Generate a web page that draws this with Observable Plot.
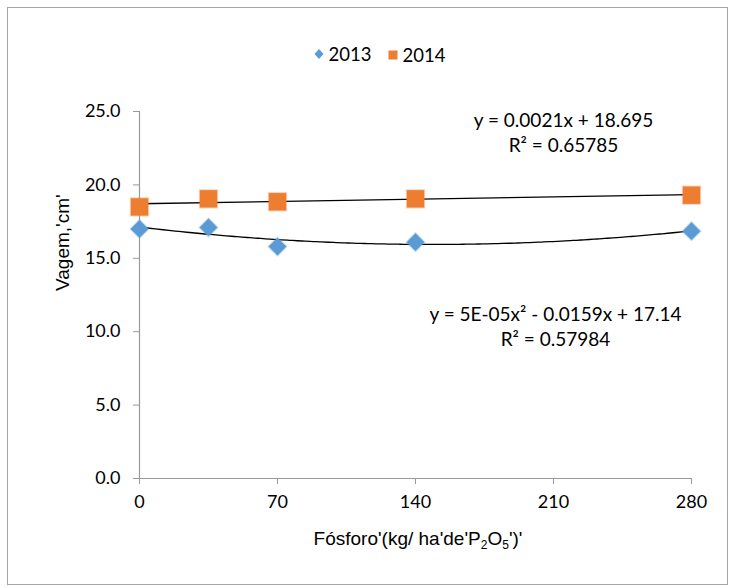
<!DOCTYPE html>
<html>
<head>
<meta charset="utf-8">
<script src="https://cdn.jsdelivr.net/npm/d3@7"></script>
<script src="https://cdn.jsdelivr.net/npm/@observablehq/plot@0.6"></script>
<style>
  body { margin: 0; background: #fff; }
  #box { position: absolute; left: 7px; top: 7px; width: 719px; height: 576px; border: 1px solid #a6a6a6; }
  #legend { position: absolute; top: 34px; left: 0; width: 100%; text-align: center; font-family: Lato, "Open Sans", sans-serif; font-size: 18.5px; color: #000; padding-left: 24px; box-sizing: border-box; }
  #legend span.item { display: inline-flex; align-items: center; margin: 0 8px; }
  #legend svg { margin-right: 5px; }
  #chart { position: absolute; left: 0; top: 72px; }
  #xtitle { position: absolute; top: 520px; left: 410px; transform: translateX(-50%); font-family: "Liberation Sans Narrow", "Arial Narrow", sans-serif; font-size: 19px; white-space: nowrap; color: #000; }
  #xtitle sub { font-size: 12px; vertical-align: -4px; line-height: 0; }
</style>
</head>
<body>
<div id="box">
  <div id="legend"></div>
  <div id="chart"></div>
  <div id="xtitle">Fósforo'(kg/ ha'de'P<sub>2</sub>O<sub>5</sub>')'</div>
</div>
<script>
// ---- data ----
const doses = [0, 35, 70, 140, 280];
const vagem2013 = [17.0, 17.1, 15.8, 16.1, 16.85];
const vagem2014 = [18.5, 19.05, 18.85, 19.05, 19.3];
const seriesNames = ["2013", "2014"];
const seriesColors = ["#5B9BD5", "#ED7D31"];
const xTicks = [0, 70, 140, 210, 280];
const yTicks = [0, 5, 10, 15, 20, 25];
const eqLinear = ["y = 0.0021x + 18.695", "R² = 0.65785"];
const eqQuad = ["y = 5E-05x² - 0.0159x + 17.14", "R² = 0.57984"];

const rows2013 = doses.map((d, i) => ({x: d, y: vagem2013[i]}));
const rows2014 = doses.map((d, i) => ({x: d, y: vagem2014[i]}));

// quadratic least-squares fit of the 2013 data (Excel polynomial trendline)
function polyfit2(xs, ys) {
  const S = [0,0,0,0,0], T = [0,0,0];
  xs.forEach((x, i) => {
    for (let k = 0; k < 5; k++) S[k] += Math.pow(x, k);
    for (let k = 0; k < 3; k++) T[k] += Math.pow(x, k) * ys[i];
  });
  const A = [[S[0],S[1],S[2]],[S[1],S[2],S[3]],[S[2],S[3],S[4]]];
  const det = m => m[0][0]*(m[1][1]*m[2][2]-m[1][2]*m[2][1]) - m[0][1]*(m[1][0]*m[2][2]-m[1][2]*m[2][0]) + m[0][2]*(m[1][0]*m[2][1]-m[1][1]*m[2][0]);
  const D = det(A);
  return [0,1,2].map(c => det(A.map((row, r) => row.map((v, j) => j === c ? T[r] : v))) / D);
}
const q = polyfit2(doses, vagem2013);
const quadCurve = d3.range(0, 281, 4).map(x => ({x, y: q[0] + q[1]*x + q[2]*x*x}));

const tickFont = "Lato, 'Open Sans', sans-serif";

const plot = Plot.plot({
  width: 719,
  height: 490,
  marginLeft: 131,
  marginRight: 36,
  marginTop: 31,
  marginBottom: 92,
  style: {fontFamily: tickFont, fontSize: "18px", color: "#000", background: "transparent"},
  x: {domain: [0, 280], ticks: xTicks, label: null},
  y: {domain: [0, 25], ticks: yTicks, label: null, tickFormat: d3.format(".1f")},
  marks: [
    Plot.ruleY([0], {stroke: "#999", strokeWidth: 1.2}),
    Plot.ruleX([0], {stroke: "#999", strokeWidth: 1.2}),
    Plot.axisY({ticks: yTicks, tickFormat: d3.format(".1f"), tickSize: 6, tickPadding: 13, stroke: "#999", fontSize: 18, label: null}),
    Plot.axisX({ticks: xTicks, tickSize: 6, tickPadding: 11, stroke: "#999", fontSize: 18, label: null}),
    Plot.linearRegressionY(rows2014, {x: "x", y: "y", stroke: "#000", strokeWidth: 1.3, ci: 0}),
    Plot.line(quadCurve, {x: "x", y: "y", stroke: "#000", strokeWidth: 1.3, curve: "basis"}),
    Plot.dot(rows2014, {x: "x", y: "y", symbol: "square", r: 9.8, fill: seriesColors[1], stroke: seriesColors[1], strokeOpacity: 0.35, strokeWidth: 2}),
    Plot.dot(rows2013, {x: "x", y: "y", symbol: "diamond2", r: 8, fill: seriesColors[0], stroke: seriesColors[0], strokeOpacity: 0.35, strokeWidth: 2}),
    Plot.text([eqLinear[0]], {frameAnchor: "top", dx: 148, dy: 2, fontSize: 19, fontFamily: tickFont}),
    Plot.text([eqLinear[1]], {frameAnchor: "top", dx: 148, dy: 27, fontSize: 19, fontFamily: tickFont}),
    Plot.text([eqQuad[0]], {frameAnchor: "top", dx: 140, dy: 196, fontSize: 19, fontFamily: tickFont}),
    Plot.text([eqQuad[1]], {frameAnchor: "top", dx: 140, dy: 221, fontSize: 19, fontFamily: tickFont}),
    Plot.text(["Vagem,'cm'"], {frameAnchor: "left", dx: -77, dy: -4, rotate: -90, fontSize: 19, fontFamily: "'Liberation Sans Narrow', 'Arial Narrow', sans-serif"})
  ]
});
document.getElementById("chart").appendChild(plot);

// legend
const legend = document.getElementById("legend");
seriesNames.forEach((name, i) => {
  const item = document.createElement("span");
  item.className = "item";
  const shape = i === 0
    ? `<svg width="10" height="12"><path d="M5,1 L9.5,6 L5,11 L0.5,6 Z" fill="${seriesColors[i]}"/></svg>`
    : `<svg width="10" height="10"><rect x="0.5" y="0.5" width="9" height="9" fill="${seriesColors[i]}"/></svg>`;
  item.innerHTML = shape + `<span>${name}</span>`;
  legend.appendChild(item);
});
</script>
</body>
</html>
